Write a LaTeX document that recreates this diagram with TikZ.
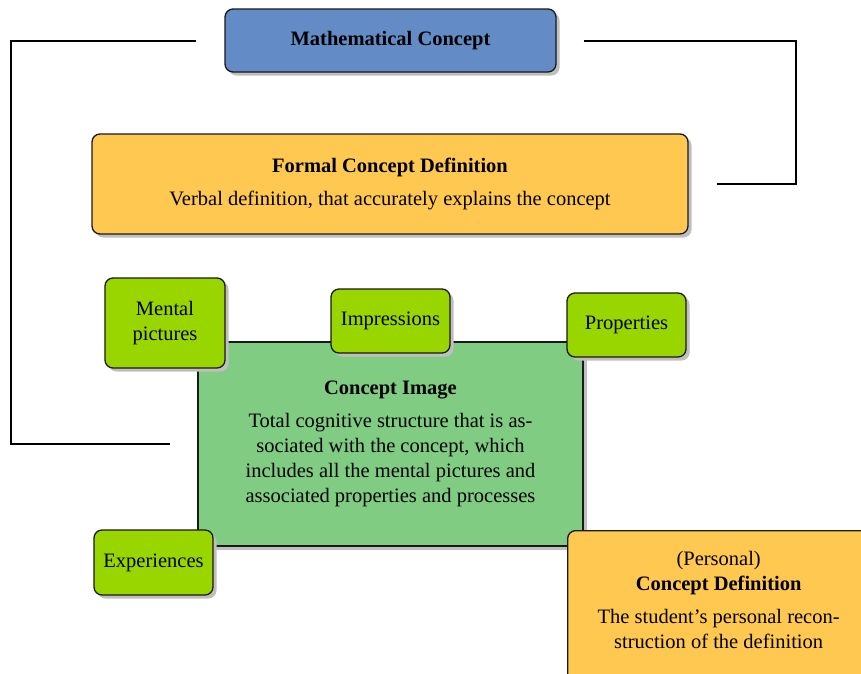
\documentclass[tikz,border=0pt]{standalone}
\usepackage{fontspec}
\setmainfont{Liberation Serif}
\usetikzlibrary{shadows}
\definecolor{mathblue}{RGB}{99,140,198}
\definecolor{defyellow}{RGB}{255,200,80}
\definecolor{imagegreen}{RGB}{128,204,130}
\definecolor{limegreen}{RGB}{153,214,0}
\begin{document}
\begin{tikzpicture}[x=1pt,y=-1pt,
  font=\fontsize{20.5}{25}\selectfont,
  boxbase/.style={draw=black!90, line width=1.3pt, align=center, inner sep=0pt,
    drop shadow={shadow xshift=3.5pt, shadow yshift=-3.5pt, fill=black!25, opacity=1}},
  roundbox/.style={boxbase, rounded corners=8pt},
  mathbox/.style={roundbox, fill=mathblue, minimum width=331pt, minimum height=63pt},
  defbox/.style={roundbox, fill=defyellow},
  imagebox/.style={boxbase, fill=imagegreen, minimum width=385pt, minimum height=204pt},
  aspect/.style={roundbox, fill=limegreen, minimum width=119pt, minimum height=64pt},
  link/.style={draw=black, line width=2pt}]
\useasboundingbox (0,0) rectangle (861,673);

% top concept
\node[mathbox] (math) at (390.5,40.5) {\textbf{Mathematical Concept}};

% formal definition
\node[defbox, minimum width=596pt, minimum height=100pt] (formal) at (390,184)
  {\textbf{Formal Concept Definition}\\[8pt]Verbal definition, that accurately explains the concept};

% concept image and its parts
\node[imagebox] (image) at (390.5,444)
  {\textbf{Concept Image}\\[8pt]Total cognitive structure that is as-\\sociated with the concept, which\\includes all the mental pictures and\\associated properties and processes};

\node[aspect, minimum width=120pt, minimum height=90pt] (mental) at (165,323) {Mental\\pictures};
\node[aspect] (impr) at (390.5,321) {Impressions};
\node[aspect] (prop) at (626.5,325) {Properties};
\node[aspect, minimum height=65pt] (exper) at (153.5,562.5) {Experiences};

% personal concept definition
\node[defbox, anchor=north west, minimum width=302pt, minimum height=170pt] (personal) at (567,530) {};
\node[align=center, anchor=north] (personaltext) at ([yshift=-18pt]personal.north)
  {(Personal)\\\textbf{Concept Definition}\\[8pt]The student’s personal recon-\\struction of the definition};

% connecting brackets
\coordinate (ml) at ([xshift=-28pt]math.west);
\coordinate (mr) at ([xshift=27pt]math.east);
\coordinate (gl) at ([xshift=-27pt]image.west);
\coordinate (fr) at ([xshift=28pt]formal.east);
\draw[link] (ml) -- ++(-185,0) |- (gl);
\draw[link] (mr) -- ++(212,0) |- (fr);
\end{tikzpicture}
\end{document}
